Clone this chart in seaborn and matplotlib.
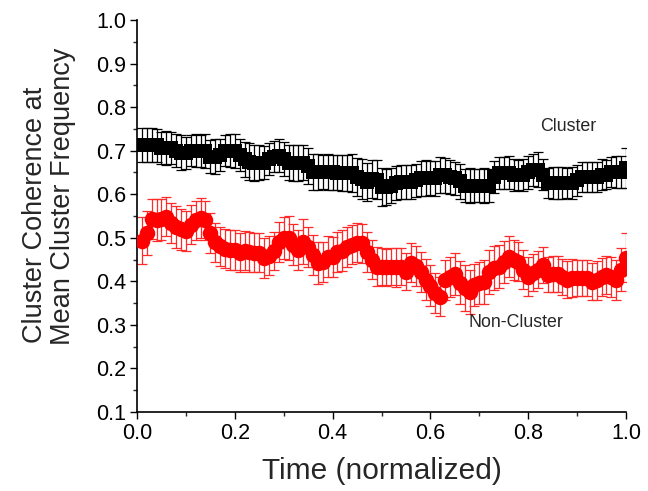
import numpy as np
import pandas as pd
import matplotlib
matplotlib.use("Agg")
import matplotlib.pyplot as plt
import seaborn as sns
from matplotlib.ticker import MultipleLocator

# ---- data ----
time = [i / 100 for i in range(1, 101)]

cluster = [0.713, 0.713, 0.713, 0.712, 0.706, 0.706, 0.706, 0.700, 0.695, 0.695,
           0.700, 0.700, 0.700, 0.700, 0.686, 0.686, 0.690, 0.700, 0.700, 0.700,
           0.690, 0.680, 0.675, 0.672, 0.672, 0.672, 0.680, 0.686, 0.688, 0.680,
           0.672, 0.672, 0.672, 0.672, 0.665, 0.651, 0.651, 0.651, 0.651, 0.650,
           0.649, 0.649, 0.649, 0.649, 0.640, 0.635, 0.628, 0.635, 0.633, 0.617,
           0.617, 0.620, 0.625, 0.628, 0.628, 0.628, 0.632, 0.637, 0.637, 0.637,
           0.637, 0.644, 0.643, 0.640, 0.637, 0.630, 0.620, 0.620, 0.620, 0.620,
           0.620, 0.620, 0.640, 0.649, 0.649, 0.649, 0.644, 0.644, 0.644, 0.650,
           0.656, 0.656, 0.645, 0.626, 0.626, 0.626, 0.626, 0.626, 0.626, 0.632,
           0.640, 0.640, 0.640, 0.640, 0.645, 0.645, 0.651, 0.651, 0.651, 0.660]

cluster_err = [0.039, 0.038, 0.040, 0.038, 0.037, 0.039, 0.036, 0.038, 0.040, 0.037,
               0.036, 0.038, 0.037, 0.039, 0.038, 0.040, 0.037, 0.036, 0.038, 0.039,
               0.037, 0.040, 0.042, 0.041, 0.040, 0.038, 0.037, 0.036, 0.038, 0.039,
               0.040, 0.041, 0.042, 0.040, 0.041, 0.042, 0.041, 0.040, 0.042, 0.041,
               0.040, 0.041, 0.042, 0.043, 0.044, 0.045, 0.043, 0.044, 0.045, 0.043,
               0.042, 0.040, 0.039, 0.038, 0.040, 0.039, 0.038, 0.040, 0.041, 0.039,
               0.040, 0.041, 0.040, 0.039, 0.038, 0.040, 0.039, 0.040, 0.038, 0.039,
               0.040, 0.038, 0.037, 0.036, 0.037, 0.038, 0.036, 0.035, 0.036, 0.037,
               0.036, 0.040, 0.036, 0.035, 0.036, 0.037, 0.036, 0.035, 0.036, 0.035,
               0.034, 0.035, 0.034, 0.035, 0.036, 0.034, 0.035, 0.036, 0.037, 0.045]

noncluster = [0.493, 0.511, 0.544, 0.540, 0.542, 0.548, 0.534, 0.525, 0.520, 0.515,
              0.530, 0.540, 0.545, 0.540, 0.510, 0.490, 0.480, 0.475, 0.472, 0.472,
              0.466, 0.470, 0.468, 0.466, 0.466, 0.454, 0.459, 0.470, 0.491, 0.500,
              0.500, 0.484, 0.472, 0.491, 0.479, 0.460, 0.443, 0.445, 0.456, 0.456,
              0.468, 0.470, 0.478, 0.484, 0.489, 0.487, 0.468, 0.450, 0.434, 0.434,
              0.432, 0.434, 0.432, 0.434, 0.422, 0.443, 0.435, 0.422, 0.404, 0.390,
              0.374, 0.365, 0.404, 0.410, 0.417, 0.397, 0.385, 0.376, 0.392, 0.396,
              0.399, 0.422, 0.430, 0.434, 0.445, 0.456, 0.450, 0.445, 0.427, 0.411,
              0.420, 0.427, 0.438, 0.415, 0.417, 0.417, 0.410, 0.404, 0.408, 0.408,
              0.408, 0.408, 0.399, 0.402, 0.410, 0.415, 0.410, 0.404, 0.427, 0.454]

noncluster_err = [0.054, 0.050, 0.046, 0.048, 0.047, 0.045, 0.046, 0.048, 0.047, 0.046,
                  0.045, 0.044, 0.046, 0.045, 0.046, 0.045, 0.044, 0.045, 0.046, 0.045,
                  0.044, 0.045, 0.046, 0.044, 0.045, 0.046, 0.045, 0.044, 0.046, 0.048,
                  0.050, 0.047, 0.046, 0.052, 0.045, 0.046, 0.048, 0.046, 0.047, 0.045,
                  0.046, 0.047, 0.046, 0.045, 0.044, 0.045, 0.046, 0.045, 0.044, 0.043,
                  0.042, 0.043, 0.044, 0.042, 0.043, 0.044, 0.045, 0.046, 0.048, 0.047,
                  0.046, 0.045, 0.046, 0.047, 0.048, 0.050, 0.052, 0.050, 0.048, 0.049,
                  0.050, 0.051, 0.050, 0.049, 0.048, 0.047, 0.046, 0.045, 0.044, 0.045,
                  0.043, 0.042, 0.041, 0.040, 0.041, 0.042, 0.041, 0.042, 0.043, 0.042,
                  0.041, 0.042, 0.043, 0.044, 0.043, 0.044, 0.045, 0.046, 0.050, 0.056]

x_ticks = [0.0, 0.2, 0.4, 0.6, 0.8, 1.0]
y_ticks = [0.1, 0.2, 0.3, 0.4, 0.5, 0.6, 0.7, 0.8, 0.9, 1.0]

df_c = pd.DataFrame({"time": time, "value": cluster, "err": cluster_err})
df_n = pd.DataFrame({"time": time, "value": noncluster, "err": noncluster_err})

# ---- plotting ----
sns.set_style("ticks")
plt.rcParams["font.family"] = ["Liberation Sans", "DejaVu Sans"]

fig = plt.figure(figsize=(6.48, 4.91), dpi=100)
ax = fig.add_axes([137 / 648, 1 - 412 / 491, 489 / 648, 392 / 491])

ax.errorbar(df_c["time"], df_c["value"], yerr=df_c["err"], fmt="none",
            ecolor="black", elinewidth=0.9, capsize=3.5, capthick=0.9, zorder=2)
ax.errorbar(df_n["time"], df_n["value"], yerr=df_n["err"], fmt="none",
            ecolor="#ff2a2a", elinewidth=0.9, capsize=3.5, capthick=0.9, zorder=2)

sns.scatterplot(data=df_c, x="time", y="value", marker="s", s=92, color="black",
                edgecolor="black", linewidth=0, ax=ax, zorder=3, legend=False)
sns.scatterplot(data=df_n, x="time", y="value", marker="o", s=125, color="red",
                edgecolor="red", linewidth=0, ax=ax, zorder=3, legend=False)

ax.set_xlim(0.0, 1.0)
ax.set_ylim(0.1, 1.0)
ax.set_xticks(x_ticks)
ax.set_xticklabels([f"{t:.1f}" for t in x_ticks])
ax.set_yticks(y_ticks)
ax.set_yticklabels([f"{t:.1f}" for t in y_ticks])
ax.xaxis.set_minor_locator(MultipleLocator(0.1))
ax.yaxis.set_minor_locator(MultipleLocator(0.05))
ax.tick_params(axis="both", which="major", direction="out", length=5, width=1,
               labelsize=15.5, colors="black", pad=3)
ax.tick_params(axis="both", which="minor", direction="out", length=3, width=1)

sns.despine(ax=ax)
for sp in ["left", "bottom"]:
    ax.spines[sp].set_linewidth(1.2)
    ax.spines[sp].set_color("black")

ax.set_xlabel("Time (normalized)", fontsize=21.5, labelpad=9)
ax.set_ylabel("")
fig.text(35 / 648, 1 - 343 / 491, "Cluster Coherence at", rotation=90,
         fontsize=19.5, ha="center", va="bottom")
fig.text(63 / 648, 1 - 345 / 491, "Mean Cluster Frequency", rotation=90,
         fontsize=19.5, ha="center", va="bottom")

ax.text(0.881, 0.755, "Cluster", fontsize=12.8, ha="center", va="center")
ax.text(0.775, 0.305, "Non-Cluster", fontsize=12.8, ha="center", va="center")

fig.savefig("out.png", dpi=100)
